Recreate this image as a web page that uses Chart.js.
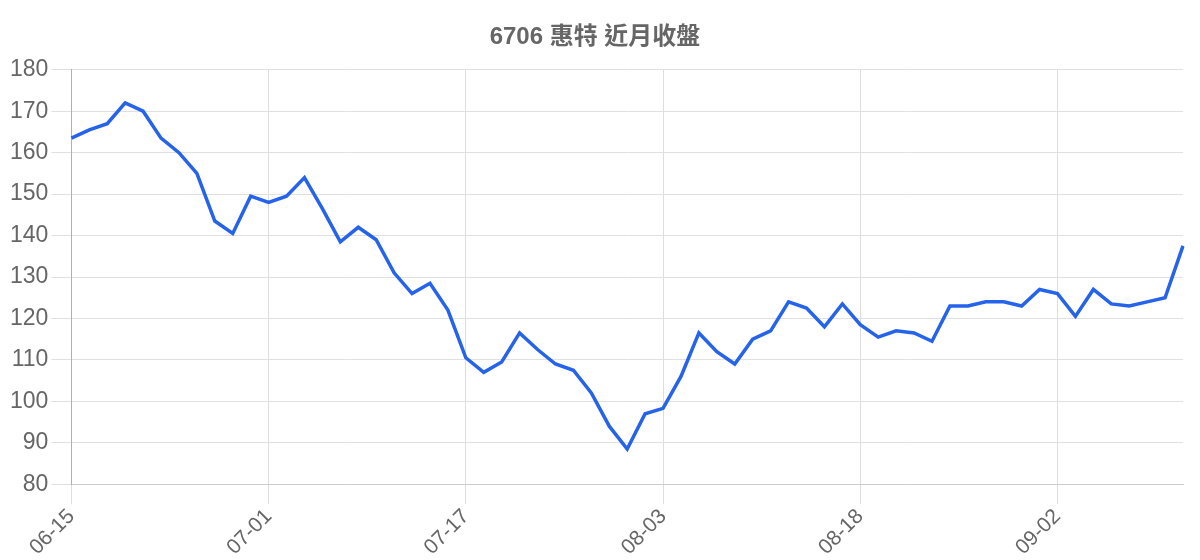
<!DOCTYPE html>
<html>
<head>
<meta charset="utf-8">
<script src="https://cdn.jsdelivr.net/npm/chart.js@4.4.1/dist/chart.umd.min.js"></script>
<style>
html,body{margin:0;padding:0;background:#fff;}
#wrap{width:1200px;height:560px;position:relative;}
</style>
</head>
<body>
<div id="wrap"><canvas id="c"></canvas></div>
<script>
const titleText = '6706 惠特 近月收盤';
const dates = [
  '06-15','06-16','06-17','06-18','06-22','06-23','06-24','06-25','06-26','06-29','06-30',
  '07-01','07-02','07-03','07-06','07-07','07-09','07-10','07-13','07-14','07-15','07-16',
  '07-17','07-20','07-21','07-22','07-23','07-24','07-27','07-28','07-29','07-30','07-31',
  '08-03','08-04','08-05','08-06','08-07','08-10','08-11','08-12','08-13','08-14','08-17',
  '08-18','08-19','08-20','08-21','08-24','08-25','08-26','08-27','08-28','08-31','09-01',
  '09-02','09-03','09-04','09-07','09-08','09-09','09-10','09-11'
];
const closes = [
  163.5,165.5,167,172,170,163.5,160,155,143.5,140.5,149.5,
  148,149.5,154,146.5,138.5,142,139,131,126,128.5,122,
  110.5,107,109.5,116.5,112.5,109,107.5,102,94,88.5,97,
  98.3,106,116.5,112,109,115,117,124,122.5,118,123.5,
  118.5,115.5,117,116.5,114.5,123,123,124,124,123,127,
  126,120.5,127,123.5,123,124,125,137.5
];
const yTicks = [80,90,100,110,120,130,140,150,160,170,180];
const labelEvery = 11;

new Chart(document.getElementById('c'), {
  type: 'line',
  data: {
    labels: dates,
    datasets: [{
      label: '收盤',
      data: closes,
      borderColor: '#2563eb',
      backgroundColor: '#2563eb',
      borderWidth: 3.5,
      pointRadius: 0,
      tension: 0,
      fill: false
    }]
  },
  options: {
    responsive: true,
    maintainAspectRatio: false,
    animation: false,
    devicePixelRatio: 1,
    layout: { padding: { left: 7, right: 17, top: 0, bottom: 0 } },
    plugins: {
      legend: { display: false },
      tooltip: { enabled: false },
      title: {
        display: true,
        text: titleText,
        color: '#666666',
        font: { family: '"Liberation Sans", Arial, "Noto Sans CJK TC", sans-serif', size: 24, weight: 'bold' },
        padding: { top: 23, bottom: 18 }
      }
    },
    scales: {
      x: {
        grid: { color: '#dddddd', lineWidth: 1, tickLength: 20, drawTicks: true },
        border: { color: '#cccccc' },
        ticks: {
          autoSkip: false,
          minRotation: 45,
          maxRotation: 45,
          padding: 0,
          color: '#666666',
          font: { family: '"Liberation Sans", Arial, sans-serif', size: 21 },
          callback: function(v, i) { return i % labelEvery === 0 ? dates[i] : null; }
        }
      },
      y: {
        min: yTicks[0],
        max: yTicks[yTicks.length - 1],
        afterBuildTicks: function(axis) { axis.ticks = yTicks.map(v => ({ value: v })); },
        grid: { color: '#e0e0e0', lineWidth: 1, tickLength: 20 },
        border: { color: '#b0b0b0' },
        ticks: {
          color: '#666666',
          padding: 3,
          font: { family: '"Liberation Sans", Arial, sans-serif', size: 23 }
        }
      }
    }
  }
});
</script>
</body>
</html>
